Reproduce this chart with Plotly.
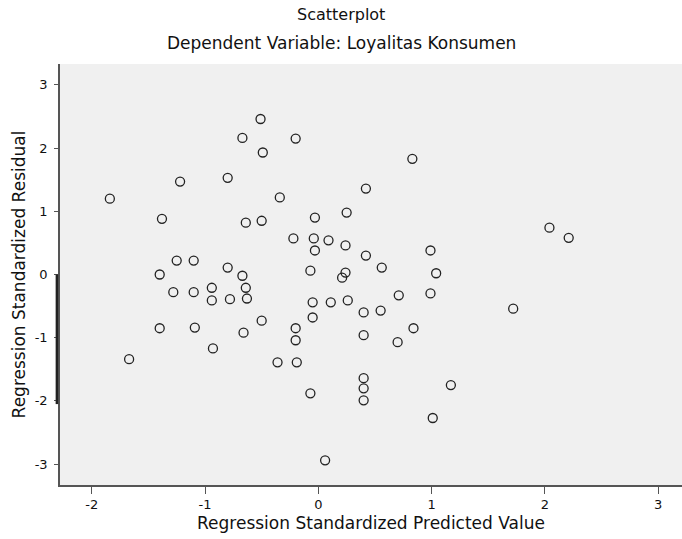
import plotly.graph_objects as go

# Regression Standardized Predicted Value
pred = [-1.84, -1.67, -1.38, -1.40, -1.40, -1.28, -1.22, -1.25, -1.10, -1.09,
        -1.10, -0.94, -0.94, -0.93, -0.80, -0.80, -0.78, -0.67, -0.67, -0.64,
        -0.64, -0.63, -0.66, -0.51, -0.49, -0.50, -0.50, -0.34, -0.36, -0.20,
        -0.22, -0.20, -0.20, -0.19, -0.07, -0.05, -0.05, -0.07, -0.03, -0.04,
        -0.03, 0.06, 0.09, 0.11, 0.24, 0.25, 0.24, 0.21, 0.26, 0.42,
        0.42, 0.40, 0.40, 0.40, 0.40, 0.40, 0.55, 0.56, 0.71, 0.70,
        0.83, 0.84, 0.99, 1.04, 0.99, 1.01, 1.17, 1.72, 2.04, 2.21]
# Regression Standardized Residual
resid = [1.20, -1.34, 0.88, 0.00, -0.85, -0.28, 1.47, 0.22, 0.22, -0.84,
         -0.28, -0.21, -0.41, -1.17, 1.53, 0.11, -0.39, 2.16, -0.02, 0.82,
         -0.21, -0.38, -0.92, 2.46, 1.93, 0.85, -0.73, 1.22, -1.39, 2.15,
         0.57, -0.85, -1.04, -1.39, 0.06, -0.44, -0.68, -1.88, 0.90, 0.57,
         0.38, -2.94, 0.54, -0.44, 0.46, 0.98, 0.03, -0.05, -0.41, 0.30,
         1.36, -0.60, -0.96, -1.64, -1.80, -1.99, -0.57, 0.11, -0.33, -1.07,
         1.83, -0.85, 0.38, 0.02, -0.30, -2.27, -1.75, -0.54, 0.74, 0.58]

x_ticks = [-2, -1, 0, 1, 2, 3]
y_ticks = [-3, -2, -1, 0, 1, 2, 3]

fig = go.Figure()
fig.add_trace(go.Scatter(
    x=pred, y=resid, mode="markers",
    marker=dict(symbol="circle-open", size=9, color="#222222",
                line=dict(width=1.3, color="#222222")),
    showlegend=False,
))

font = dict(family="DejaVu Sans, sans-serif", size=13, color="#111111")

fig.update_layout(
    width=682, height=539,
    margin=dict(l=60, r=0, t=64, b=54),
    paper_bgcolor="#FFFFFF",
    plot_bgcolor="#F0F0F0",
    font=font,
    xaxis=dict(range=[-2.28, 3.21], tickvals=x_ticks, ticktext=[str(v) for v in x_ticks],
               showgrid=False, zeroline=False, showline=True, linecolor="#555555",
               linewidth=1.5, ticks="outside", ticklen=7, tickcolor="#555555",
               tickfont=dict(size=13),
               title=dict(text="Regression Standardized Predicted Value", standoff=6,
                          font=dict(size=17))),
    yaxis=dict(range=[-3.33, 3.33], tickvals=y_ticks, ticktext=[str(v) for v in y_ticks],
               showgrid=False, zeroline=False, showline=True, linecolor="#555555",
               linewidth=1.5, ticks="outside", ticklen=4, tickcolor="#555555",
               tickfont=dict(size=13), ticklabelstandoff=4,
               title=dict(text="Regression Standardized Residual", standoff=5,
                          font=dict(size=17))),
    annotations=[
        dict(text="Scatterplot", x=0.452, y=1.0, xref="paper", yref="paper",
             yshift=61, showarrow=False, font=dict(size=16)),
        dict(text="Dependent Variable: Loyalitas Konsumen", x=0.452, y=1.0,
             xref="paper", yref="paper", yshift=33, showarrow=False,
             font=dict(size=17)),
    ],
    shapes=[
        dict(type="line", xref="paper", yref="y", x0=-0.005, x1=-0.005,
             y0=0, y1=-2.05, line=dict(color="#222222", width=2.5)),
    ],
)

fig.write_html("out.html", config={"displayModeBar": False},
               post_script="document.body.style.margin='0';")
